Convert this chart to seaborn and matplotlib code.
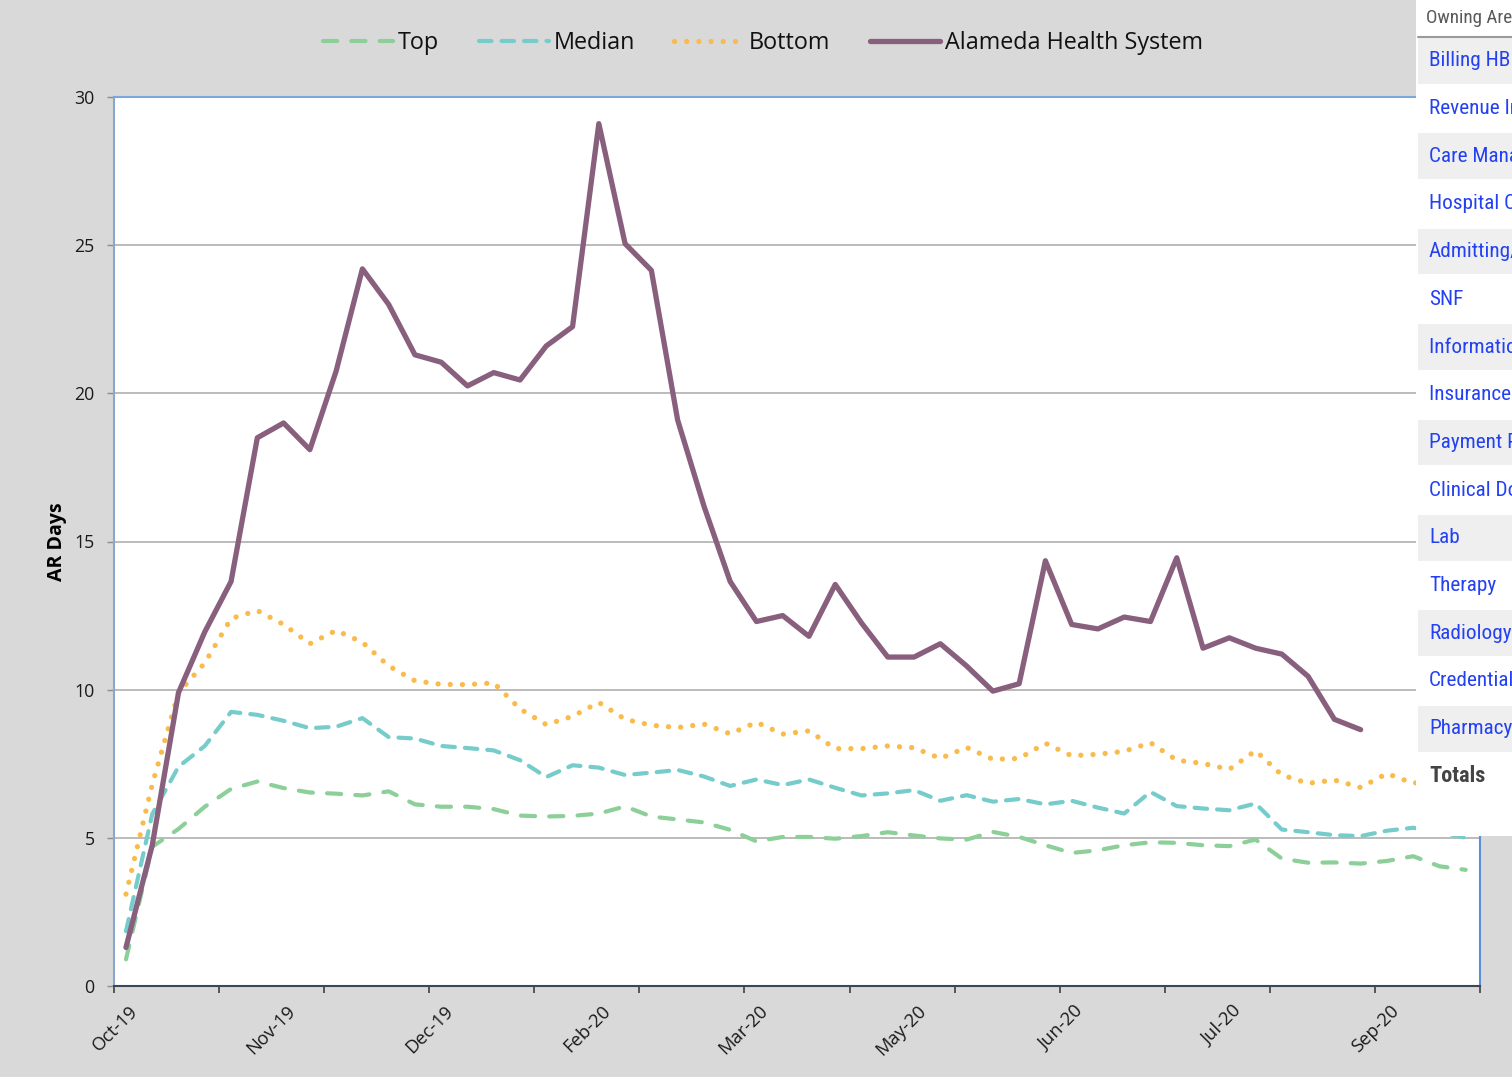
import numpy as np
import pandas as pd
import seaborn as sns
import matplotlib
matplotlib.use("Agg")
import matplotlib.pyplot as plt
from matplotlib.patches import Rectangle
from matplotlib import font_manager as fm

# ---------------- data ----------------
series_names = ["Top", "Median", "Bottom", "Alameda Health System"]

top = [0.9, 4.7, 5.3, 6.05, 6.65, 6.9, 6.68, 6.53, 6.49, 6.43,
       6.57, 6.13, 6.05, 6.05, 5.97, 5.75, 5.72, 5.74, 5.82, 6.06,
       5.72, 5.62, 5.52, 5.27, 4.88, 5.03, 5.03, 4.97, 5.06, 5.19,
       5.08, 4.98, 4.94, 5.20, 5.03, 4.75, 4.49, 4.58, 4.75, 4.85,
       4.83, 4.75, 4.72, 4.94, 4.30, 4.16, 4.17, 4.13, 4.22, 4.38,
       4.04, 3.92]

median = [1.85, 5.8, 7.4, 8.1, 9.25, 9.15, 8.95, 8.7, 8.75, 9.04,
          8.4, 8.35, 8.1, 8.03, 7.95, 7.62, 7.05, 7.45, 7.37, 7.12,
          7.2, 7.29, 7.07, 6.75, 6.97, 6.78, 6.97, 6.69, 6.43, 6.5,
          6.61, 6.25, 6.44, 6.22, 6.31, 6.13, 6.25, 6.02, 5.82, 6.55,
          6.07, 5.99, 5.93, 6.16, 5.28, 5.19, 5.09, 5.06, 5.24, 5.34,
          5.2, 5.0]

bottom = [3.1, 6.8, 9.9, 10.9, 12.4, 12.67, 12.2, 11.55, 12.0, 11.6,
          10.8, 10.3, 10.18, 10.17, 10.23, 9.35, 8.82, 9.1, 9.57, 9.0,
          8.8, 8.72, 8.84, 8.51, 8.9, 8.5, 8.61, 8.01, 8.01, 8.1,
          8.04, 7.68, 8.05, 7.65, 7.68, 8.19, 7.77, 7.82, 7.92, 8.21,
          7.62, 7.51, 7.31, 7.94, 7.12, 6.84, 6.95, 6.7, 7.17, 6.84,
          7.0, 6.8]

ahs = [1.3, 4.75, 9.9, 11.95, 13.65, 18.5, 19.0, 18.1, 20.75, 24.2,
       23.0, 21.3, 21.05, 20.25, 20.7, 20.45, 21.6, 22.25, 29.1, 25.05,
       24.15, 19.1, 16.2, 13.65, 12.3, 12.5, 11.8, 13.55, 12.25, 11.1,
       11.1, 11.55, 10.8, 9.95, 10.2, 14.35, 12.2, 12.05, 12.45, 12.3,
       14.45, 11.4, 11.75, 11.4, 11.2, 10.45, 9.0, 8.65]

x_labels = ["Oct-19", "Nov-19", "Dec-19", "Feb-20", "Mar-20",
            "May-20", "Jun-20", "Jul-20", "Sep-20"]
y_ticks = [0, 5, 10, 15, 20, 25, 30]
y_label = "AR Days"

panel_header = "Owning Area"
panel_items = ["Billing HB", "Revenue Integrity", "Care Management",
               "Hospital Coding", "Admitting/Registration", "SNF",
               "Information Technology", "Insurance Verification",
               "Payment Posting", "Clinical Documentation", "Lab",
               "Therapy", "Radiology", "Credentialing", "Pharmacy",
               "Totals"]

# ---------------- style ----------------
sns.set_style("white")
plt.rcParams["font.family"] = ["Open Sans", "DejaVu Sans"]


def first_font(names):
    for n in names:
        try:
            fm.findfont(fm.FontProperties(family=n), fallback_to_default=False)
            return n
        except Exception:
            pass
    return "DejaVu Sans"


narrow = first_font(["Liberation Sans Narrow", "DejaVu Sans Condensed",
                     "Roboto Condensed", "Liberation Sans"])

c_top = "#8ccf98"
c_med = "#76cccb"
c_bot = "#f8bb4c"
c_ahs = "#885f7d"

W, H = 1512, 1077
fig = plt.figure(figsize=(W / 100, H / 100), dpi=100, facecolor="#d9d9d9")
ax = fig.add_axes([114 / W, 91 / H, 1366 / W, 889 / H])
ax.set_facecolor("white")

weeks = np.arange(len(top))
weeks_ahs = np.arange(len(ahs))

df = pd.DataFrame({"week": weeks, "Top": top, "Median": median, "Bottom": bottom})
df_ahs = pd.DataFrame({"week": weeks_ahs, "AHS": ahs})

sns.lineplot(data=df, x="week", y="Top", ax=ax, color=c_top, linewidth=3.0,
             linestyle=(0, (3.4, 3.4)), dash_capstyle="round",
             label=series_names[0], legend=False, zorder=3)
sns.lineplot(data=df, x="week", y="Median", ax=ax, color=c_med, linewidth=3.0,
             linestyle=(0, (3.0, 2.4)), dash_capstyle="round",
             label=series_names[1], legend=False, zorder=3)
sns.lineplot(data=df, x="week", y="Bottom", ax=ax, color=c_bot, linewidth=3.8,
             linestyle=(0, (0.01, 2.3)), dash_capstyle="round",
             label=series_names[2], legend=False, zorder=3)
sns.lineplot(data=df_ahs, x="week", y="AHS", ax=ax, color=c_ahs, linewidth=3.8,
             solid_joinstyle="round", solid_capstyle="round",
             label=series_names[3], legend=False, zorder=4)

# axes limits / ticks
ax.set_xlim(-0.456, 51.48)
ax.set_ylim(0, 30)
ax.set_yticks(y_ticks)
ax.set_yticklabels([str(v) for v in y_ticks])
ax.tick_params(axis="y", length=5, width=1, color="#8c8c8c", pad=9,
               labelsize=12.8, labelcolor="#1a1a1a", left=True)

label_pos = 0.34 + 6 * np.arange(len(x_labels))
ax.set_xticks(label_pos)
ax.set_xticklabels(x_labels, rotation=45, ha="right", va="center",
                   rotation_mode="anchor", fontsize=13.2, color="#1a1a1a")
ax.set_xticks(-0.456 + 4 * np.arange(14), minor=True)
ax.tick_params(axis="x", which="major", length=0, pad=16, bottom=True)
ax.tick_params(axis="x", which="minor", length=5, width=1.2, color="#404040",
               bottom=True)
ax.set_xlabel("")

ax.set_ylabel(y_label, fontsize=14, fontweight="bold", color="black")
ax.yaxis.set_label_coords(-0.0345, 0.5)

ax.grid(axis="y", color="#a8a8a8", linewidth=1.1)
ax.grid(axis="x", visible=False)
ax.set_axisbelow(True)

for side, col, lw in [("top", "#7ba7de", 1.5), ("right", "#5b8fd8", 1.5),
                      ("left", "#8aa6cc", 1.5), ("bottom", "#3d4654", 1.5)]:
    ax.spines[side].set_visible(True)
    ax.spines[side].set_color(col)
    ax.spines[side].set_linewidth(lw)

# legend
handles, labels = ax.get_legend_handles_labels()
leg = fig.legend(handles, labels, loc="center", bbox_to_anchor=(763 / W, 1 - 43 / H),
                 ncol=4, frameon=False, fontsize=16.8, handlelength=3.0,
                 handletextpad=0.2, columnspacing=1.7)
for t in leg.get_texts():
    t.set_color("#111111")

# ---------------- overlay panel (filter list) ----------------
pax = fig.add_axes([1416 / W, 241 / H, 96 / W, 836 / H])
pax.set_facecolor("white")
pax.set_xlim(0, 96)
pax.set_ylim(836, 0)
pax.set_xticks([])
pax.set_yticks([])
for s in pax.spines.values():
    s.set_visible(False)

row_h = 47.7
row0 = 37
for k, item in enumerate(panel_items):
    y0 = row0 + k * row_h
    if k % 2 == 0 and item != "Totals":
        pax.add_patch(Rectangle((2, y0 + 1), 94, row_h - 2, facecolor="#efefef",
                                edgecolor="none", zorder=1))
    if item == "Totals":
        pax.text(13, y0 + row_h / 2, item, fontsize=16, family=[narrow, "DejaVu Sans"],
                 color="#444444", fontweight="bold", va="center", ha="left",
                 zorder=3, clip_on=True)
    else:
        pax.text(13, y0 + row_h / 2, item, fontsize=15.3, family=[narrow, "DejaVu Sans"],
                 color="#2341f2", va="center", ha="left", zorder=3, clip_on=True)

pax.text(10, 18, panel_header, fontsize=13.8, family=[narrow, "DejaVu Sans"],
         color="#5a5a5a", va="center", ha="left", zorder=3, clip_on=True)
pax.plot([2, 96], [row0, row0], color="#9a9a9a", linewidth=1.5, zorder=2)

fig.savefig("out.png", dpi=100, facecolor=fig.get_facecolor())
